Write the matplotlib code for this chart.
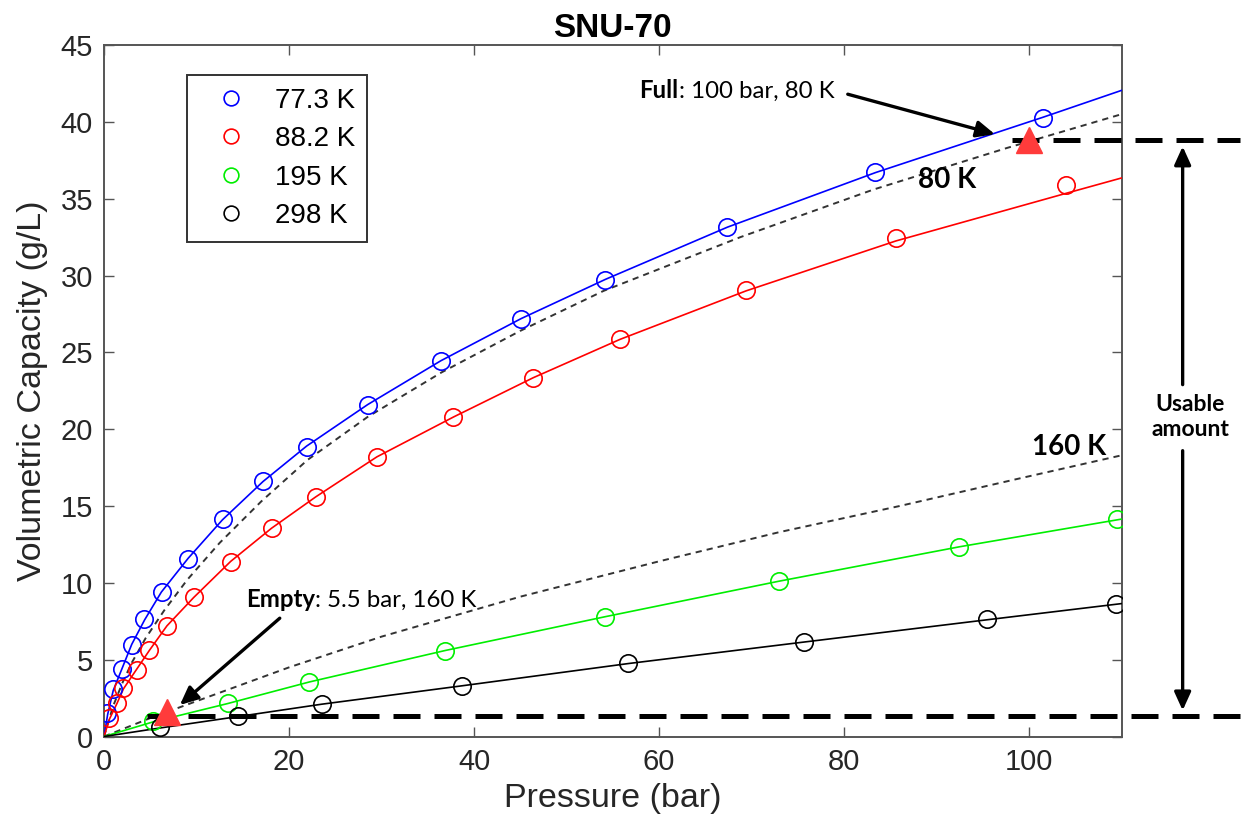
import matplotlib
matplotlib.use("Agg")
import matplotlib.pyplot as plt

# measured points, 77.3 K / 88.2 K / 195 K / 298 K
P_77 = [0.36, 1.01, 1.91, 2.99, 4.36, 6.24, 9.11, 12.83, 17.22, 21.91, 28.54, 36.40, 45.08, 54.19, 67.35, 83.35, 101.48]
Q_77 = [1.51, 3.07, 4.37, 5.96, 7.63, 9.41, 11.58, 14.14, 16.65, 18.83, 21.58, 24.45, 27.18, 29.72, 33.17, 36.71, 40.25]
P_88 = [0.57, 1.37, 2.09, 3.54, 4.90, 6.78, 9.73, 13.70, 18.13, 22.92, 29.48, 37.76, 46.41, 55.82, 69.41, 85.59, 104.0]
Q_88 = [1.18, 2.20, 3.14, 4.33, 5.63, 7.21, 9.06, 11.38, 13.55, 15.57, 18.18, 20.82, 23.36, 25.86, 29.07, 32.43, 35.86]
P_195 = [5.33, 13.44, 22.19, 36.86, 54.19, 72.94, 92.46, 109.55]
Q_195 = [0.98, 2.16, 3.57, 5.59, 7.80, 10.14, 12.36, 14.16]
P_298 = [6.05, 14.45, 23.54, 38.74, 56.65, 75.68, 95.49, 109.4]
Q_298 = [0.64, 1.35, 2.12, 3.31, 4.79, 6.15, 7.63, 8.63]

# fitted curves
FIT_77_P = [0, 0.4, 1, 2, 3, 4.4, 6.2, 9.1, 12.8, 17.2, 21.9, 28.5, 36.4, 45.1, 54.2, 67.4, 83.4, 101.5, 110]
FIT_77_Q = [0, 1.45, 3.0, 4.5, 6.0, 7.6, 9.4, 11.6, 14.1, 16.6, 18.9, 21.6, 24.45, 27.2, 29.75, 33.15, 36.7, 40.3, 42.05]
FIT_88_P = [0, 0.6, 1.4, 2.1, 3.5, 4.9, 6.8, 9.7, 13.7, 18.1, 22.9, 29.5, 37.8, 46.4, 55.8, 69.4, 85.6, 104, 110]
FIT_88_Q = [0, 1.15, 2.15, 3.1, 4.35, 5.6, 7.2, 9.05, 11.4, 13.55, 15.6, 18.2, 20.8, 23.35, 25.85, 29.0, 32.25, 35.35, 36.35]
FIT_195_P = [0, 5.3, 13.4, 22.2, 36.9, 54.2, 72.9, 92.5, 110]
FIT_195_Q = [0, 0.95, 2.15, 3.55, 5.6, 7.8, 10.1, 12.35, 14.15]
FIT_298_P = [0, 6, 14.5, 23.5, 38.7, 56.7, 75.7, 95.5, 110]
FIT_298_Q = [0, 0.55, 1.3, 2.1, 3.3, 4.75, 6.15, 7.6, 8.65]

# predicted isotherms at 80 K and 160 K (dashed)
ISO_80_P = [0, 1, 2, 3, 4.5, 6.5, 9, 12.5, 17, 22, 28.5, 36.5, 45, 54, 68.8, 83.2, 97.6, 110]
ISO_80_Q = [0, 2.0, 3.5, 4.8, 6.4, 8.2, 10.2, 12.6, 15.3, 18.0, 20.8, 23.7, 26.4, 29.0, 32.5, 35.6, 38.3, 40.5]
ISO_160_P = [0, 5, 10, 20, 30, 45, 60, 73, 86, 99, 110]
ISO_160_Q = [0, 1.2, 2.3, 4.5, 6.5, 9.1, 11.4, 13.3, 15.0, 16.8, 18.3]

LABELS = ["77.3 K", "88.2 K", "195 K", "298 K"]
COLORS = ["#0000ff", "#ff0000", "#00ee00", "#000000"]

FULL_P, FULL_Q = 100.0, 38.85
EMPTY_P, EMPTY_Q = 6.8, 1.6
FULL_LINE_Q = 38.85
EMPTY_LINE_Q = 1.33

AX_FONT = "Liberation Sans"
NOTE_FONT = "Lato"

fig = plt.figure(figsize=(12.44, 8.31), dpi=100)
ax = fig.add_axes([0.0836, 0.1137, 0.818, 0.8321])

points = [(P_77, Q_77), (P_88, Q_88), (P_195, Q_195), (P_298, Q_298)]
fits = [(FIT_77_P, FIT_77_Q), (FIT_88_P, FIT_88_Q), (FIT_195_P, FIT_195_Q), (FIT_298_P, FIT_298_Q)]

for (fp, fq), color in zip(fits, COLORS):
    ax.plot(fp, fq, color=color, lw=1.2, zorder=3)

dash_style = (0, (3.2, 2.6))
ax.plot(ISO_80_P, ISO_80_Q, color="#333333", lw=1.4, linestyle=dash_style, zorder=2)
ax.plot(ISO_160_P, ISO_160_Q, color="#333333", lw=1.4, linestyle=dash_style, zorder=2)

for (p, q), color, label in zip(points, COLORS, LABELS):
    ax.plot(p, q, linestyle="none", marker="o", markersize=12.5, markerfacecolor="none",
            markeredgecolor=color, markeredgewidth=1.2, label=label, zorder=4)

# full / empty states
thick_dash = (0, (5.4, 2.8))
ax.plot([98.2, 122.8], [FULL_LINE_Q, FULL_LINE_Q], color="black", lw=3.6,
        linestyle=thick_dash, clip_on=False, zorder=5)
ax.plot([4.6, 122.8], [EMPTY_LINE_Q, EMPTY_LINE_Q], color="black", lw=3.6,
        linestyle=thick_dash, clip_on=False, zorder=5)
ax.plot([FULL_P, EMPTY_P], [FULL_Q, EMPTY_Q], linestyle="none", marker="^",
        markersize=19, color="#ff3b3b", clip_on=False, zorder=6)

arrow = dict(arrowstyle="-|>,head_length=1.1,head_width=0.5", color="black", lw=2.4,
             shrinkA=0, shrinkB=0)
ax.annotate("", xy=(96.3, 39.2), xytext=(80.4, 41.8), arrowprops=arrow, annotation_clip=False)
ax.annotate("", xy=(8.2, 2.05), xytext=(19.0, 7.7), arrowprops=arrow, annotation_clip=False)

# usable amount double arrow, split by the text
ax.annotate("", xy=(116.6, 38.4), xytext=(116.6, 22.9), arrowprops=arrow, annotation_clip=False)
ax.annotate("", xy=(116.6, 1.7), xytext=(116.6, 18.6), arrowprops=arrow, annotation_clip=False)
ax.text(117.4, 20.8, "Usable\namount", family=NOTE_FONT, fontweight="bold", fontsize=16.5,
        ha="center", va="center", linespacing=1.2, clip_on=False)

full_b = ax.text(57.9, 41.3, "Full", family=NOTE_FONT, fontweight="bold", fontsize=17.3, va="bottom")
ax.annotate(": 100 bar, 80 K", xy=(1, 0), xycoords=full_b, va="bottom", ha="left",
            family=NOTE_FONT, fontsize=17.3)
empty_b = ax.text(15.35, 8.2, "Empty", family=NOTE_FONT, fontweight="bold", fontsize=17.3, va="bottom")
ax.annotate(": 5.5 bar, 160 K", xy=(1, 0), xycoords=empty_b, va="bottom", ha="left",
            family=NOTE_FONT, fontsize=17.3)

ax.text(88.0, 36.2, "80 K", family=NOTE_FONT, fontweight="bold", fontsize=20, va="center")
ax.text(100.3, 18.85, "160 K", family=NOTE_FONT, fontweight="bold", fontsize=20, va="center")

ax.set_xlim(0, 110)
ax.set_ylim(0, 45)
ax.set_xticks([0, 20, 40, 60, 80, 100])
ax.set_yticks(range(0, 46, 5))
ax.tick_params(direction="in", length=7, width=1.0, color="#555555", top=True, right=True,
               labelsize=21, labelcolor="#262626", pad=8)
for lab in ax.get_xticklabels() + ax.get_yticklabels():
    lab.set_family(AX_FONT)
for spine in ax.spines.values():
    spine.set_color("#555555")
    spine.set_linewidth(1.4)

ax.set_xlabel("Pressure (bar)", family=AX_FONT, fontsize=24.5, color="#262626", labelpad=5)
ax.set_ylabel("Volumetric Capacity (g/L)", family=AX_FONT, fontsize=24.5, color="#262626", labelpad=9)
ax.set_title("SNU-70", family=AX_FONT, fontweight="bold", fontsize=24, pad=6)

leg = ax.legend(loc="upper left", bbox_to_anchor=(0.0816, 0.9566), borderaxespad=0,
                fancybox=False, edgecolor="#333333", framealpha=1, prop={"family": AX_FONT, "size": 20},
                handletextpad=0.4, labelspacing=0.45, borderpad=0.45, handlelength=2.3,
                markerscale=0.85)
leg.get_frame().set_linewidth(1.4)

fig.savefig("out.png", dpi=100)
